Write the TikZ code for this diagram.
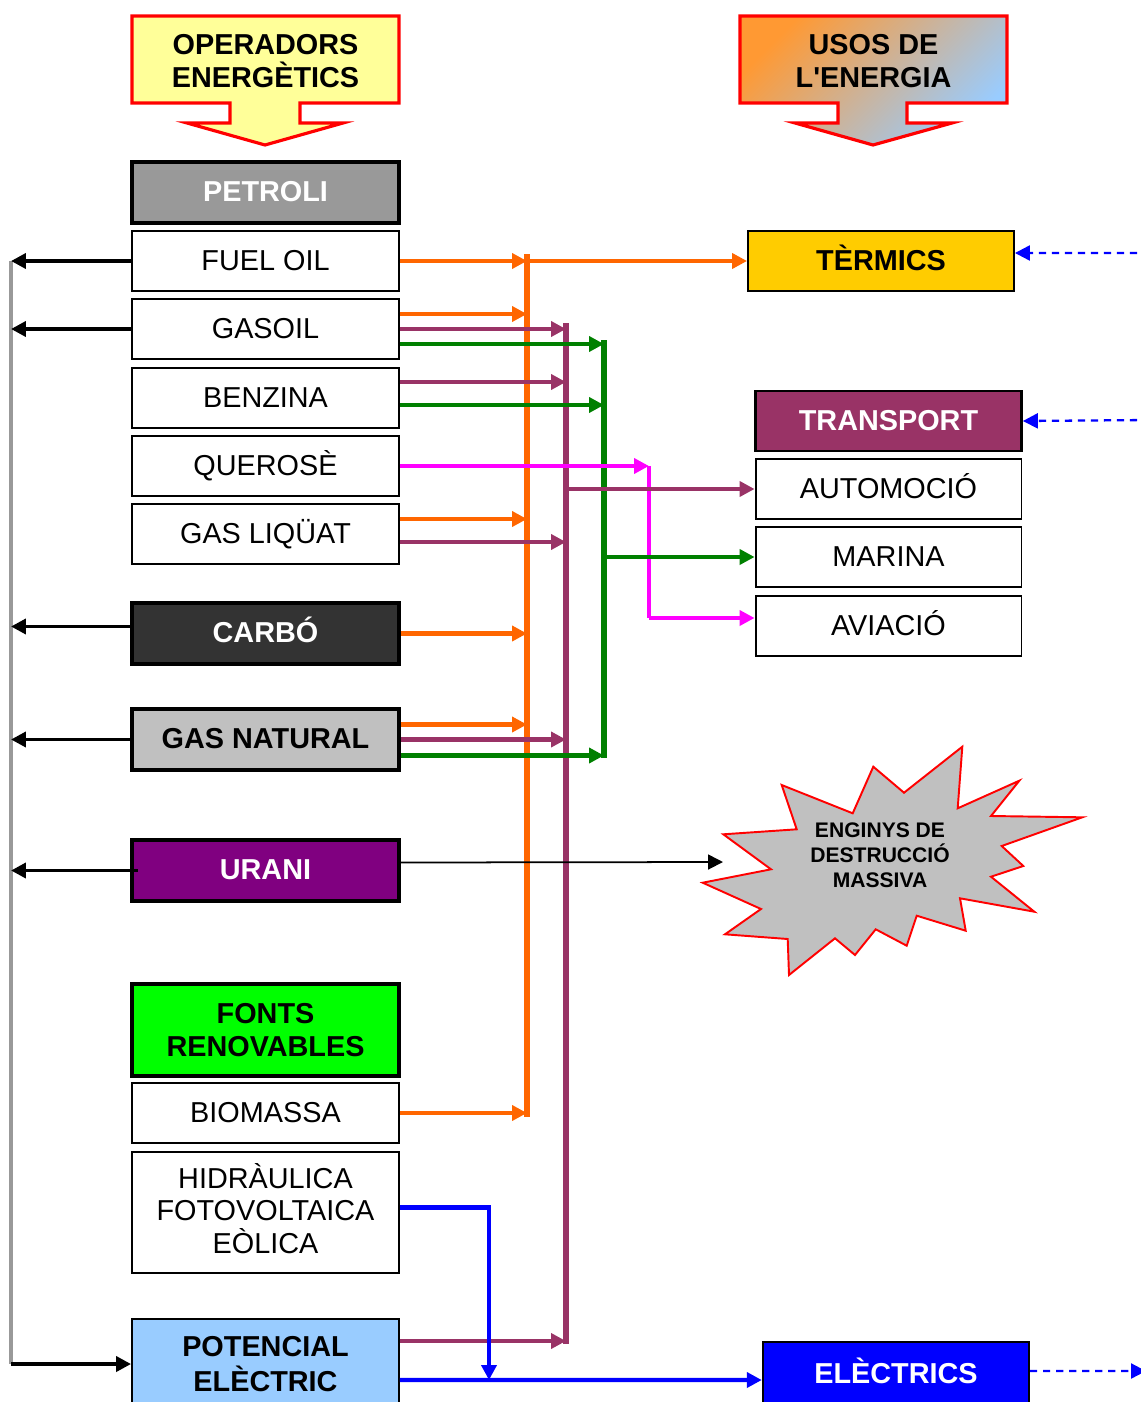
\documentclass[tikz,border=0pt]{standalone}
\usepackage{fontspec}
\setmainfont{Liberation Sans}[Ligatures=TeXOff]
\usetikzlibrary{arrows.meta, positioning, calc}

\definecolor{petrolgray}{HTML}{999999}
\definecolor{carbodark}{HTML}{333333}
\definecolor{gasgray}{HTML}{C0C0C0}
\definecolor{uranipurple}{HTML}{800080}
\definecolor{fontsgreen}{HTML}{00FF00}
\definecolor{potblue}{HTML}{99CCFF}
\definecolor{termyellow}{HTML}{FFCC00}
\definecolor{wine}{HTML}{993366}
\definecolor{elecblue}{HTML}{0000FF}
\definecolor{oline}{HTML}{FF6600}
\definecolor{gline}{HTML}{008000}
\definecolor{mline}{HTML}{FF00FF}
\definecolor{hdryellow}{HTML}{FFFF99}
\definecolor{usorange}{HTML}{FF9933}
\definecolor{usmid}{HTML}{E2AAA8}

\newcommand{\boxfont}{\fontsize{16.4}{19}\selectfont}

\begin{document}
\begin{tikzpicture}[x=0.02cm, y=-0.02cm,
    box/.style={rectangle, draw, line width=1.1pt, minimum width=5.34cm, minimum height=1.2cm, inner sep=0pt, align=center, font=\boxfont},
    srcbox/.style={box, text height=11.5pt, text depth=1pt},
    hdrbox/.style={srcbox, line width=2.2pt, minimum height=1.22cm, font=\boxfont\bfseries},
    usebox/.style={srcbox, minimum width=5.32cm},
    tip/.style={-{Triangle[length=8.5pt, width=8.5pt]}},
    blk/.style={tip, line width=2.2pt, black},
    oarr/.style={tip, line width=2.3pt, oline},
    parr/.style={tip, line width=2.3pt, wine},
    garr/.style={tip, line width=2.3pt, gline},
    marr/.style={tip, line width=2.3pt, mline},
    barr/.style={tip, line width=2.3pt, elecblue},
    bus/.style={line width=3.4pt},
    dsh/.style={tip, line width=1.3pt, elecblue, dash pattern=on 4pt off 3.4pt},
    bigarrow/.style={draw=red, line width=1.8pt, line join=miter}
]
    \useasboundingbox (0,0) rectangle (1141,1402);
    \clip (0,0) rectangle (1141,1402);

    % Headers
    \draw[bigarrow, fill=hdryellow] (132,16) -- (399,16) -- (399,103) -- (300,103) -- (300,123) -- (343,123)
        -- (265,145) -- (187,123) -- (230,123) -- (230,103) -- (132,103) -- cycle;
    \node[font=\boxfont\bfseries, align=center] (oper) at (265.5,61) {OPERADORS\\ENERGÈTICS};
    \draw[bigarrow, top color=usorange, middle color=usmid, bottom color=potblue, shading angle=45] (740,16) -- (1007,16) -- (1007,103)
        -- (907,103) -- (907,123) -- (952,123) -- (873,145) -- (795,123) -- (838,123) -- (838,103) -- (740,103) -- cycle;
    \node[font=\boxfont\bfseries, align=center] (usos) at (873.5,61) {USOS DE\\L'ENERGIA};

    % Operators
    \node[hdrbox, fill=petrolgray, text=white] (petroli) at (265.5,192.5) {PETROLI};
    \node[srcbox] (fuel) at (265.5,261) {FUEL OIL};
    \node[srcbox] (gasoil) at (265.5,329) {GASOIL};
    \node[srcbox] (benzina) at (265.5,398) {BENZINA};
    \node[srcbox] (querose) at (265.5,466) {QUEROSÈ};
    \node[srcbox] (gasliq) at (265.5,534) {GAS LIQÜAT};
    \node[hdrbox, fill=carbodark, text=white] (carbo) at (265.5,633.5) {CARBÓ};
    \node[hdrbox, fill=gasgray] (gasnat) at (265.5,739.5) {GAS NATURAL};
    \node[hdrbox, fill=uranipurple, text=white] (urani) at (265.5,870.5) {URANI};
    \node[box, line width=2.2pt, fill=fontsgreen, minimum height=1.84cm, font=\boxfont\bfseries] (fonts) at (265.5,1030) {FONTS\\RENOVABLES};
    \node[srcbox] (biomassa) at (265.5,1113) {BIOMASSA};
    \node[box, minimum height=2.42cm, font=\fontsize{16.4}{18.4}\selectfont] (hidra) at (265.5,1212.5) {HIDRÀULICA\\FOTOVOLTAICA\\EÒLICA\rule[-0.28em]{0pt}{0pt}};
    \node[box, fill=potblue, minimum height=1.8cm, font=\fontsize{16.4}{19.8}\selectfont\bfseries] (potencial) at (265.5,1364) {POTENCIAL\\ELÈCTRIC};

    % Uses
    \node[usebox, fill=termyellow, font=\boxfont\bfseries] (termics) at (881,261) {TÈRMICS};
    \node[usebox, fill=wine, text=white, line width=1.6pt, font=\boxfont\bfseries] (transport) at (888.5,421) {TRANSPORT};
    \node[usebox] (automocio) at (888.5,489) {AUTOMOCIÓ};
    \node[usebox] (marina) at (888.5,557) {MARINA};
    \node[usebox] (aviacio) at (888.5,626) {AVIACIÓ};
    \node[usebox, fill=elecblue, text=white, line width=1.4pt, minimum height=1.28cm, font=\boxfont\bfseries] (electrics) at (896,1374) {ELÈCTRICS};

    % Weapons
    \draw[red, line width=1.1pt, fill=gasgray] (962.3,746.7) -- (957.7,808.3) -- (1019.3,780.7) -- (991,816) -- (1082.3,817.3)
        -- (1001.7,846) -- (1023.3,866) -- (991,876.7) -- (1034.3,911.7) -- (960,898.3) -- (965.7,930.7) -- (916.7,915.7)
        -- (906.7,945.7) -- (875.7,929.3) -- (855,955) -- (835,938.3) -- (789,975) -- (787.7,939) -- (725,934.3)
        -- (761,909) -- (702.7,882.7) -- (771,869.3) -- (723.3,834.3) -- (796.7,829.3) -- (781.7,785) -- (852.7,813.3)
        -- (873.3,766.7) -- (904,792.7) -- cycle;
    \node[font=\fontsize{12}{14.2}\selectfont\bfseries, align=center] (engin) at (880,855.5) {ENGINYS DE\\DESTRUCCIÓ\\MASSIVA};

    % Bus coordinates
    \coordinate (gl1) at (11,261);
    \coordinate (gl2) at (11,1364);
    \coordinate (ob1) at (527,254);
    \coordinate (ob2) at (527,1117);
    \coordinate (pb1) at (566,323);
    \coordinate (pb2) at (566,1344);
    \coordinate (gb1) at (604,340);
    \coordinate (gb2) at (604,758);
    \coordinate (mg1) at (649,466);
    \coordinate (mg2) at (649,618);
    \coordinate (bl1) at (489,1207);
    \coordinate (ur1) at (723,862);

    % Buses
    \draw[line width=2.3pt, petrolgray] (gl1) -- (gl2);
    \draw[bus, oline] (ob1) -- (ob2);
    \draw[bus, wine] (pb1) -- (pb2);
    \draw[bus, gline] (gb1) -- (gb2);
    \draw[line width=2.3pt, mline] (mg1) -- (mg2);

    % Back to the left
    \draw[blk] (fuel.west) -- (gl1 |- fuel.west);
    \draw[blk] (gasoil.west) -- (gl1 |- gasoil.west);
    \draw[blk] ([yshift=0.14cm]carbo.west) -- ([yshift=0.14cm]gl1 |- carbo.west);
    \draw[blk] (gasnat.west) -- (gl1 |- gasnat.west);
    \draw[blk] ([xshift=0.15cm]urani.west) -- (gl1 |- urani.west);
    \draw[blk] (gl2) -- (potencial.west);

    % Orange
    \draw[oarr] (fuel.east) -- (ob1 |- fuel.east);
    \draw[oarr] (ob1 |- fuel.east) -- (termics.west);
    \draw[oarr] ([yshift=0.3cm]gasoil.east) -- ([yshift=0.3cm]ob1 |- gasoil.east);
    \draw[oarr] ([yshift=0.3cm]gasliq.east) -- ([yshift=0.3cm]ob1 |- gasliq.east);
    \draw[oarr] (carbo.east) -- (ob1 |- carbo.east);
    \draw[oarr] ([yshift=0.3cm]gasnat.east) -- ([yshift=0.3cm]ob1 |- gasnat.east);
    \draw[oarr] (biomassa.east) -- (ob1 |- biomassa.east);

    % Purple
    \draw[parr] (gasoil.east) -- (pb1 |- gasoil.east);
    \draw[parr] ([yshift=0.32cm]benzina.east) -- ([yshift=0.32cm]pb1 |- benzina.east);
    \draw[parr] ([yshift=-0.16cm]gasliq.east) -- ([yshift=-0.16cm]pb1 |- gasliq.east);
    \draw[parr] (gasnat.east) -- (pb1 |- gasnat.east);
    \draw[parr] ([yshift=0.46cm]potencial.east) -- ([yshift=0.46cm]pb1 |- potencial.east);
    \draw[parr] (pb1 |- automocio.west) -- (automocio.west);

    % Green
    \draw[garr] ([yshift=-0.3cm]gasoil.east) -- ([yshift=-0.3cm]gb1 |- gasoil.east);
    \draw[garr] ([yshift=-0.14cm]benzina.east) -- ([yshift=-0.14cm]gb1 |- benzina.east);
    \draw[garr] ([yshift=-0.32cm]gasnat.east) -- ([yshift=-0.32cm]gb1 |- gasnat.east);
    \draw[garr] (gb1 |- marina.west) -- (marina.west);

    % Magenta
    \draw[marr] (querose.east) -- (mg1);
    \draw[marr] (mg2) -- (aviacio.west |- mg2);

    % Blue
    \draw[barr] ([yshift=0.1cm]hidra.east) -| ([yshift=-0.32cm]bl1 |- potencial.east);
    \draw[barr] ([yshift=-0.32cm]potencial.east) -- ([yshift=-0.12cm]electrics.west);

    % Uranium
    \draw[tip, line width=1pt] ([yshift=0.16cm]urani.east) -- (ur1);

    % Dashed
    \draw[dsh] (1150,253) -- ([yshift=0.16cm]termics.east);
    \draw[dsh] (1150,420) -- (transport.east);
    \draw[dsh] ([yshift=0.06cm]electrics.east) -- (1146,1371);
\end{tikzpicture}
\end{document}
